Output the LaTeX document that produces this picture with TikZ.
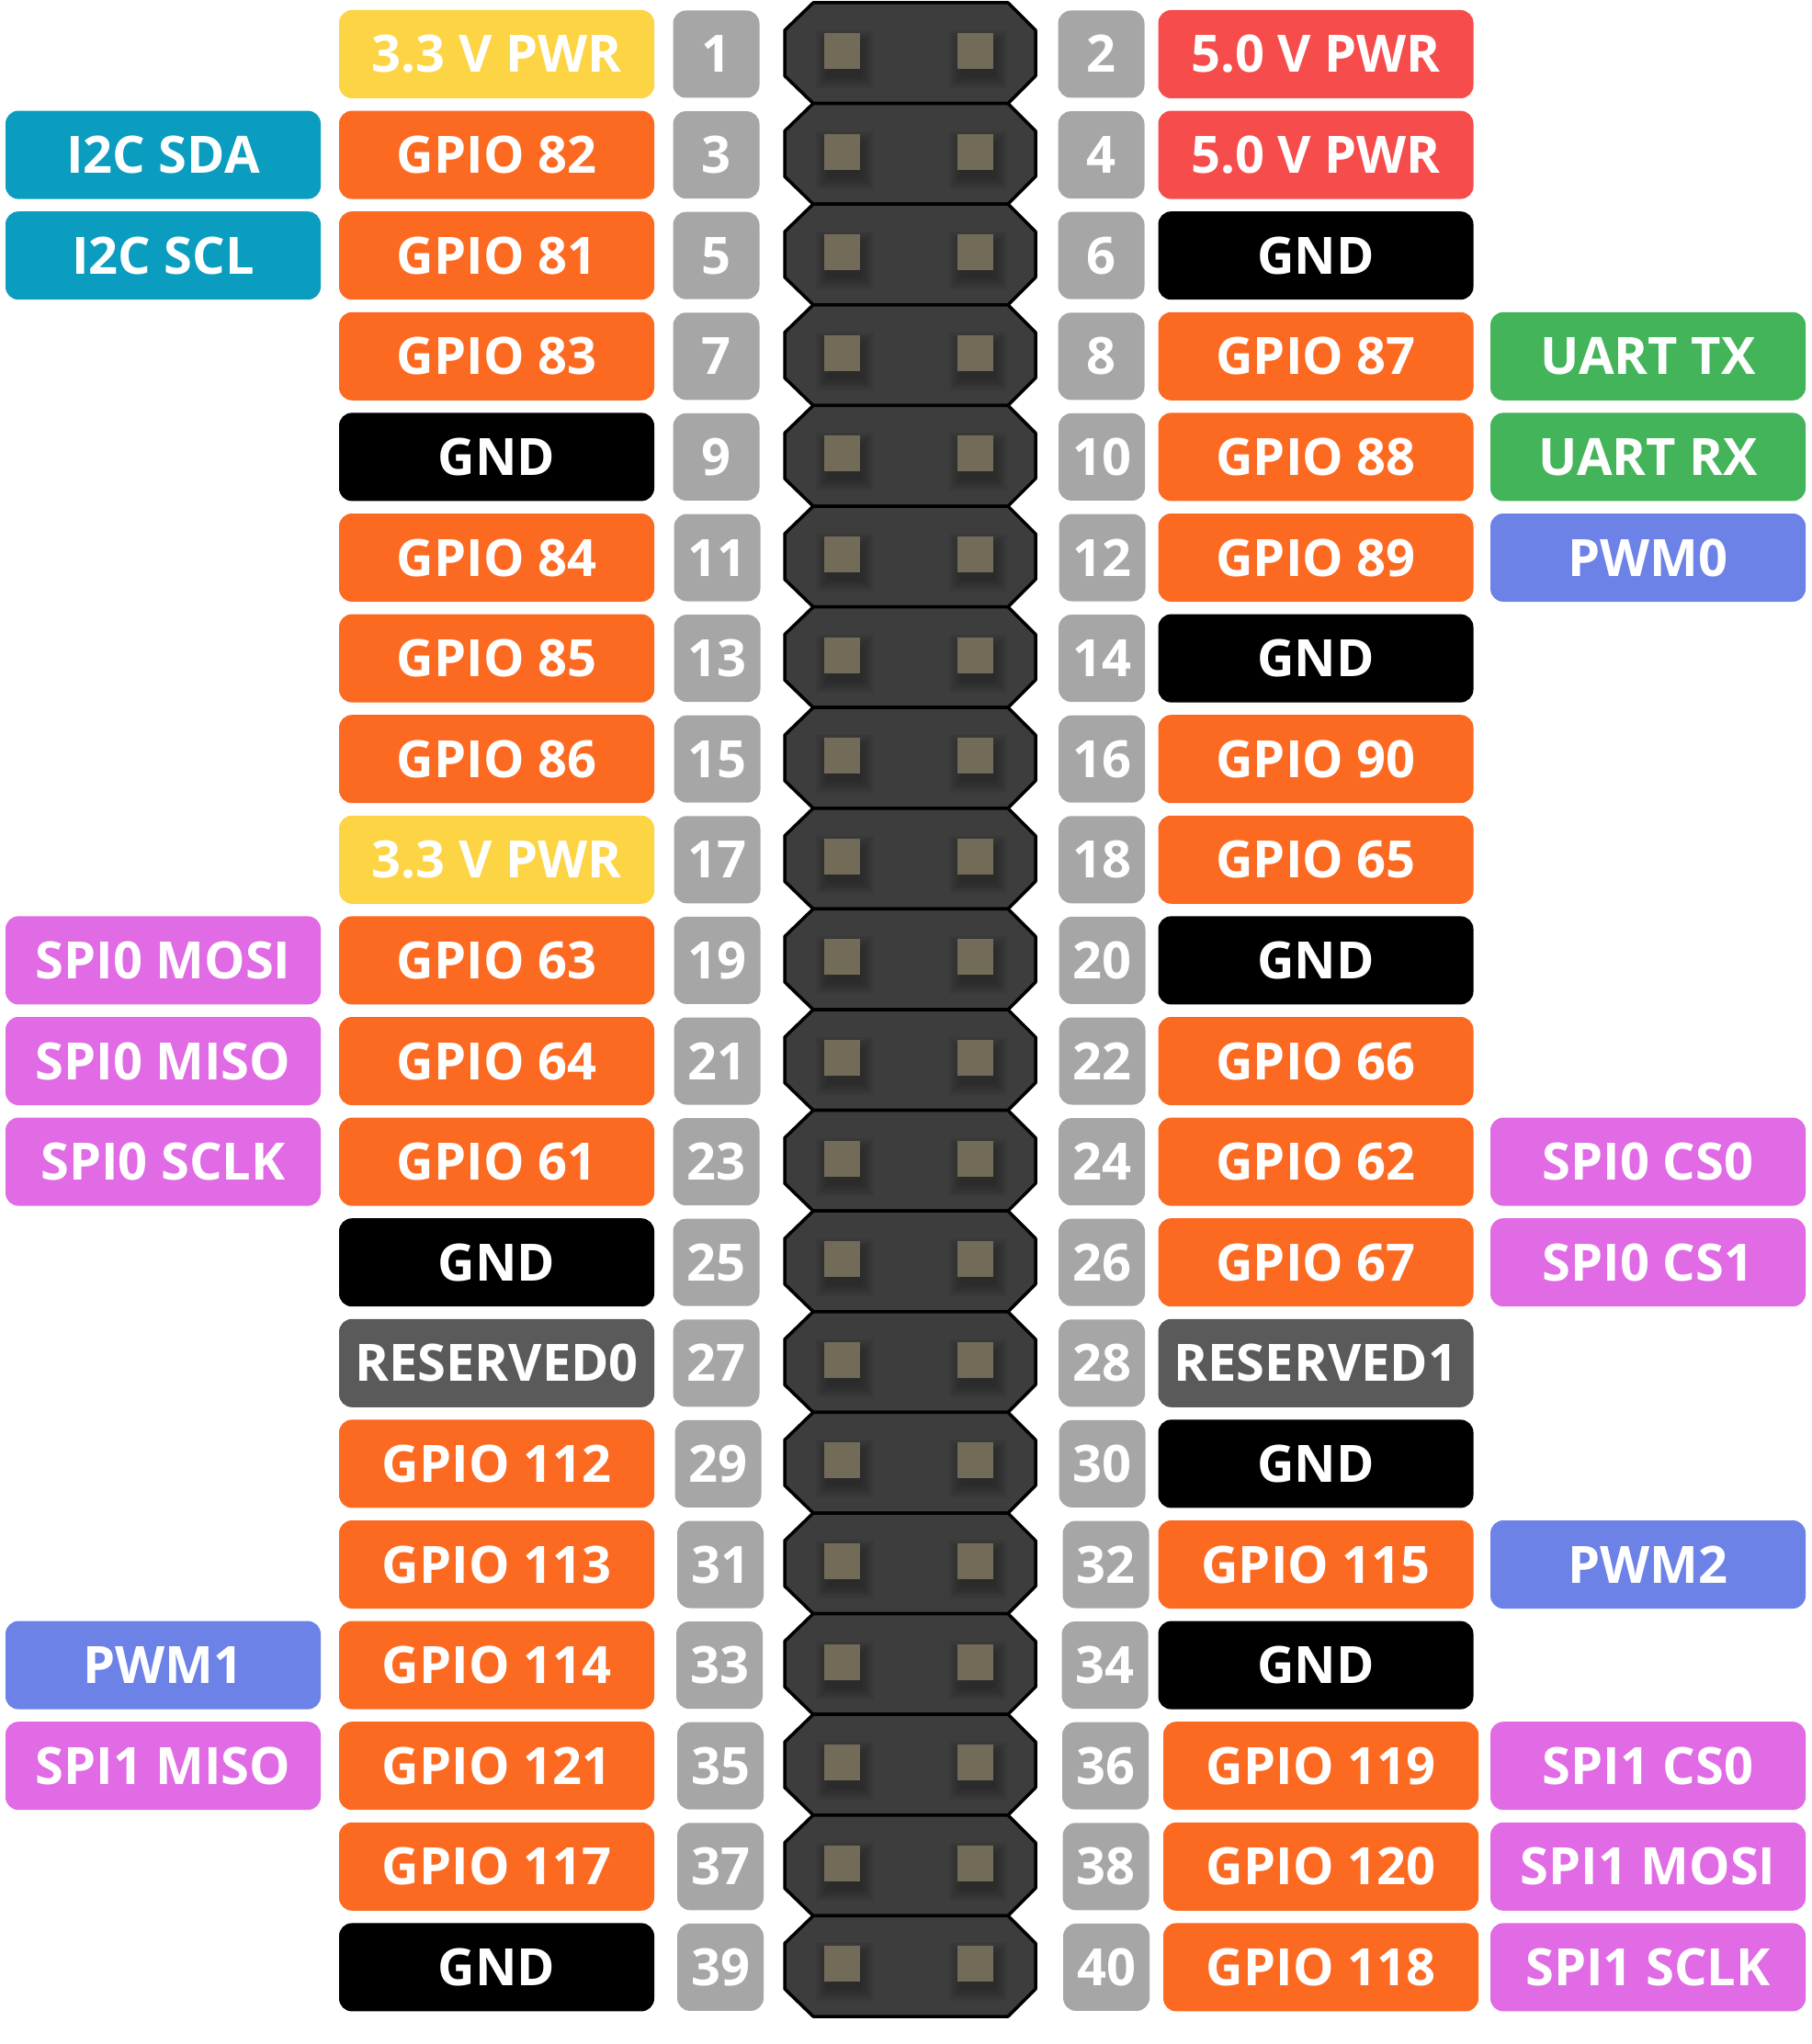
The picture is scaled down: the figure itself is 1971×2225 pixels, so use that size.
\documentclass[tikz,border=0pt]{standalone}
\usepackage{fontspec}
\setmainfont{Open Sans}
\usepackage{xcolor}
\usepackage{tikz}

\definecolor{pwrYellow}{HTML}{FDD443}
\definecolor{pwrRed}{HTML}{F64C4C}
\definecolor{gpioOrange}{HTML}{FC6A22}
\definecolor{rsvdGray}{HTML}{5A5A5A}
\definecolor{numGray}{HTML}{A6A6A6}
\definecolor{iicBlue}{HTML}{0B9DC0}
\definecolor{uartGreen}{HTML}{43B45A}
\definecolor{pwmBlue}{HTML}{6C82E6}
\definecolor{spiPink}{HTML}{E06BE4}
\definecolor{hdrGray}{HTML}{3D3D3D}
\definecolor{pinBrown}{HTML}{716B58}

\begin{document}
\begin{tikzpicture}[x=0.5pt,y=-0.5pt,line join=round,
  lbl/.style={rounded corners=7pt,minimum width=171.5pt,minimum height=48pt,inner sep=0pt,
    text=white,font=\bfseries\fontsize{28}{30}\selectfont,text height=20pt,text depth=0pt},
  num/.style={lbl,fill=numGray,minimum width=47pt,minimum height=47.5pt},
  pwr33/.style={lbl,fill=pwrYellow},
  pwr50/.style={lbl,fill=pwrRed},
  gpio/.style={lbl,fill=gpioOrange},
  gnd/.style={lbl,fill=black},
  rsvd/.style={lbl,fill=rsvdGray},
  iic/.style={lbl,fill=iicBlue},
  uart/.style={lbl,fill=uartGreen},
  pwm/.style={lbl,fill=pwmBlue},
  spi/.style={lbl,fill=spiPink}]
  \useasboundingbox (0,0) rectangle (1971,2225);

  % header blocks and pins
  \foreach \i in {0,...,19} {
    \pgfmathsetmacro{\yt}{3+109.6*\i}
    \pgfmathsetmacro{\yb}{\yt+109.6}
    \pgfmathsetmacro{\yp}{\yt+52.5}
    \draw[fill=hdrGray,line width=1.75pt] (885,\yt) -- (1097,\yt) -- (1127,\yt+30) -- (1127,\yb-30)
      -- (1097,\yb) -- (885,\yb) -- (854,\yb-30) -- (854,\yt+30) -- cycle;
    \foreach \px in {916.5,1061.5} {
      \foreach \s in {0,3,6,9,12}
        \fill[black,opacity=0.06] (\px-19.5-\s+3,\yp-19.5-\s+9) rectangle (\px+19.5+\s+3,\yp+19.5+\s+9);
      \fill[pinBrown] (\px-19.5,\yp-19.5) rectangle (\px+19.5,\yp+19.5);
    }
  }

  % odd pins
  \node[pwr33] (p1)  at (540.5,59)     {3.3 V PWR};
  \node[gpio]  (p3)  at (540.5,168.6)  {GPIO 82};
  \node[gpio]  (p5)  at (540.5,278.2)  {GPIO 81};
  \node[gpio]  (p7)  at (540.5,387.8)  {GPIO 83};
  \node[gnd]   (p9)  at (540.5,497.4)  {GND};
  \node[gpio]  (p11) at (540.5,607)    {GPIO 84};
  \node[gpio]  (p13) at (540.5,716.6)  {GPIO 85};
  \node[gpio]  (p15) at (540.5,826.2)  {GPIO 86};
  \node[pwr33] (p17) at (540.5,935.8)  {3.3 V PWR};
  \node[gpio]  (p19) at (540.5,1045.4) {GPIO 63};
  \node[gpio]  (p21) at (540.5,1155)   {GPIO 64};
  \node[gpio]  (p23) at (540.5,1264.6) {GPIO 61};
  \node[gnd]   (p25) at (540.5,1374.2) {GND};
  \node[rsvd]  (p27) at (540.5,1483.8) {RESERVED0};
  \node[gpio]  (p29) at (540.5,1593.4) {GPIO 112};
  \node[gpio]  (p31) at (540.5,1703)   {GPIO 113};
  \node[gpio]  (p33) at (540.5,1812.6) {GPIO 114};
  \node[gpio]  (p35) at (540.5,1922.2) {GPIO 121};
  \node[gpio]  (p37) at (540.5,2031.8) {GPIO 117};
  \node[gnd]   (p39) at (540.5,2141.4) {GND};

  % odd pin numbers
  \node[num] (n1)  at (779.5,59)     {1};
  \node[num] (n3)  at (779.5,168.6)  {3};
  \node[num] (n5)  at (779.5,278.2)  {5};
  \node[num] (n7)  at (779.5,387.8)  {7};
  \node[num] (n9)  at (779.5,497.4)  {9};
  \node[num] (n11) at (780.5,607)    {11};
  \node[num] (n13) at (780.5,716.6)  {13};
  \node[num] (n15) at (780.5,826.2)  {15};
  \node[num] (n17) at (780.5,935.8)  {17};
  \node[num] (n19) at (780.5,1045.4) {19};
  \node[num] (n21) at (780.5,1155)   {21};
  \node[num] (n23) at (779.5,1264.6) {23};
  \node[num] (n25) at (779.5,1374.2) {25};
  \node[num] (n27) at (779.5,1483.8) {27};
  \node[num] (n29) at (781.5,1593.4) {29};
  \node[num] (n31) at (784,1703)     {31};
  \node[num] (n33) at (783,1812.6)   {33};
  \node[num] (n35) at (784,1922.2)   {35};
  \node[num] (n37) at (784,2031.8)   {37};
  \node[num] (n39) at (784,2141.4)   {39};

  % even pin numbers
  \node[num] (n2)  at (1198.5,59)     {2};
  \node[num] (n4)  at (1198.5,168.6)  {4};
  \node[num] (n6)  at (1198.5,278.2)  {6};
  \node[num] (n8)  at (1198.5,387.8)  {8};
  \node[num] (n10) at (1199,497.4)    {10};
  \node[num] (n12) at (1199.5,607)    {12};
  \node[num] (n14) at (1199,716.6)    {14};
  \node[num] (n16) at (1199,826.2)    {16};
  \node[num] (n18) at (1199,935.8)    {18};
  \node[num] (n20) at (1199.5,1045.4) {20};
  \node[num] (n22) at (1199.5,1155)   {22};
  \node[num] (n24) at (1199,1264.6)   {24};
  \node[num] (n26) at (1199,1374.2)   {26};
  \node[num] (n28) at (1199,1483.8)   {28};
  \node[num] (n30) at (1199.5,1593.4) {30};
  \node[num] (n32) at (1203.5,1703)   {32};
  \node[num] (n34) at (1202.5,1812.6) {34};
  \node[num] (n36) at (1203,1922.2)   {36};
  \node[num] (n38) at (1203.5,2031.8) {38};
  \node[num] (n40) at (1204,2141.4)   {40};

  % even pins
  \node[pwr50] (p2)  at (1432,59)       {5.0 V PWR};
  \node[pwr50] (p4)  at (1432,168.6)    {5.0 V PWR};
  \node[gnd]   (p6)  at (1432,278.2)    {GND};
  \node[gpio]  (p8)  at (1432,387.8)    {GPIO 87};
  \node[gpio]  (p10) at (1432,497.4)    {GPIO 88};
  \node[gpio]  (p12) at (1432,607)      {GPIO 89};
  \node[gnd]   (p14) at (1432,716.6)    {GND};
  \node[gpio]  (p16) at (1432,826.2)    {GPIO 90};
  \node[gpio]  (p18) at (1432,935.8)    {GPIO 65};
  \node[gnd]   (p20) at (1432,1045.4)   {GND};
  \node[gpio]  (p22) at (1432,1155)     {GPIO 66};
  \node[gpio]  (p24) at (1432,1264.6)   {GPIO 62};
  \node[gpio]  (p26) at (1432,1374.2)   {GPIO 67};
  \node[rsvd]  (p28) at (1432,1483.8)   {RESERVED1};
  \node[gnd]   (p30) at (1432,1593.4)   {GND};
  \node[gpio]  (p32) at (1432,1703)     {GPIO 115};
  \node[gnd]   (p34) at (1432,1812.6)   {GND};
  \node[gpio]  (p36) at (1437.5,1922.2) {GPIO 119};
  \node[gpio]  (p38) at (1437.5,2031.8) {GPIO 120};
  \node[gpio]  (p40) at (1437.5,2141.4) {GPIO 118};

  % alternate functions, left
  \node[iic] (a3)  at (177.5,168.6)  {I2C SDA};
  \node[iic] (a5)  at (177.5,278.2)  {I2C SCL};
  \node[spi] (a19) at (177.5,1045.4) {SPI0 MOSI};
  \node[spi] (a21) at (177.5,1155)   {SPI0 MISO};
  \node[spi] (a23) at (177.5,1264.6) {SPI0 SCLK};
  \node[pwm] (a33) at (177.5,1812.6) {PWM1};
  \node[spi] (a35) at (177.5,1922.2) {SPI1 MISO};

  % alternate functions, right
  \node[uart] (a8)  at (1793.5,387.8)  {UART TX};
  \node[uart] (a10) at (1793.5,497.4)  {UART RX};
  \node[pwm]  (a12) at (1793.5,607)    {PWM0};
  \node[spi]  (a24) at (1793.5,1264.6) {SPI0 CS0};
  \node[spi]  (a26) at (1793.5,1374.2) {SPI0 CS1};
  \node[pwm]  (a32) at (1793.5,1703)   {PWM2};
  \node[spi]  (a36) at (1793.5,1922.2) {SPI1 CS0};
  \node[spi]  (a38) at (1793.5,2031.8) {SPI1 MOSI};
  \node[spi]  (a40) at (1793.5,2141.4) {SPI1 SCLK};
\end{tikzpicture}
\end{document}
